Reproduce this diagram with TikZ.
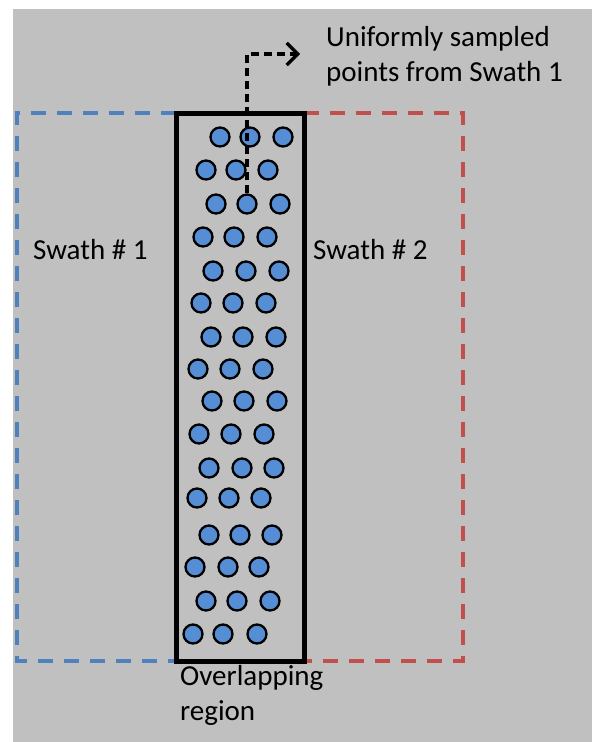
\documentclass[tikz,border=0pt]{standalone}
\usepackage{fontspec}
\setmainfont{Carlito}
\usetikzlibrary{arrows.meta}

\definecolor{bggray}{RGB}{192,192,192}
\definecolor{swblue}{RGB}{79,129,189}
\definecolor{swred}{RGB}{192,80,77}
\definecolor{ptblue}{RGB}{85,142,213}

\tikzset{
  ptdot/.style={circle, draw, line width=2.3pt, fill=ptblue, minimum size=19pt, inner sep=0pt},
  lbl/.style={align=left, inner sep=0pt, font=\fontsize{29}{35}\selectfont},
  swath/.style={line width=4pt, dash pattern=on 15pt off 11pt},
}

\begin{document}
\begin{tikzpicture}[x=1pt,y=-1pt]
  \useasboundingbox (0,0) rectangle (593,742);
  \fill[bggray] (13,9) rectangle (592,742);

  % the two swaths
  \draw[swath, swblue] (176,113) -| (17,661) -- (176,661);
  \draw[swath, swred] (304,113) -| (463,661) -- (304,661);

  % overlapping region
  \draw[line width=5pt] (176,113) rectangle (304,661);

  % sampled points
  \foreach \y/\a/\b/\c [count=\r] in {137/220/250/283, 170/206/236/268,
      204/216/247/280, 237/203/234/267, 271/213/246/279, 303/201/233/266,
      337/211/243/276, 369/198/230/263, 401/212/244/277, 434/199/231/264,
      468/209/242/274, 498/197/229/261, 535/209/240/272, 567/195/228/259,
      601/206/237/270, 634/193/223/257}
  {
    \node[ptdot] (d\r-1) at (\a,\y) {};
    \node[ptdot] (d\r-2) at (\b,\y) {};
    \node[ptdot] (d\r-3) at (\c,\y) {};
  }

  % labels
  \node[lbl, anchor=base west] (smp) at (326,81) {Uniformly sampled\\points from Swath 1};
  \node[lbl, anchor=base west] (sw1) at (33,259) {Swath \# 1};
  \node[lbl, anchor=base west] (sw2) at (313,259) {Swath \# 2};
  \node[lbl, anchor=base west] (ovl) at (180,720) {Overlapping\\region};

  \coordinate (tip) at (300,54);
  \draw[line width=3.3pt, dash pattern=on 8pt off 5pt,
        -{Straight Barb[length=11pt, width=22pt, line width=3.3pt]}]
    (d3-2.north) |- (tip);
\end{tikzpicture}
\end{document}
